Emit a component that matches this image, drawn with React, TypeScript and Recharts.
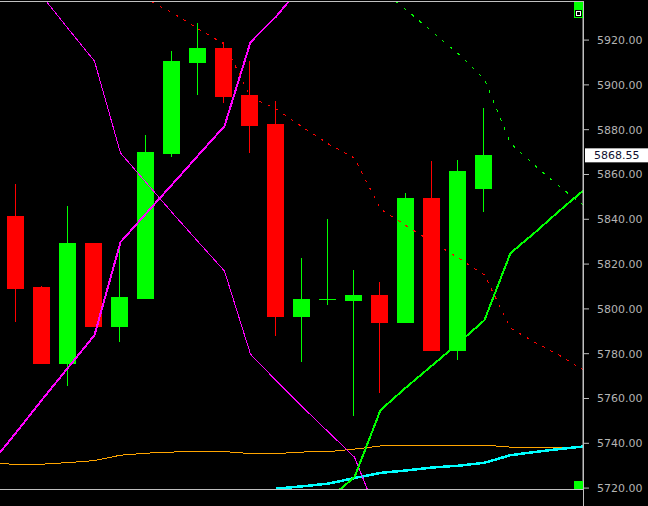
import { Bar, ComposedChart, Line, ReferenceLine, XAxis, YAxis } from 'recharts';

// candles, index 0..18
const opens = [5841.4, 5809.7, 5775.4, 5829.4, 5792.0, 5804.5, 5869.1, 5909.7, 5916.4, 5895.4, 5882.5, 5796.5, 5804.0, 5803.6, 5806.2, 5793.7, 5849.5, 5781.2, 5853.5];
const highs = [5855.7, 5810.2, 5845.9, 5829.4, 5829.4, 5877.6, 5915.1, 5927.6, 5919.1, 5910.6, 5892.8, 5822.5, 5840.0, 5817.3, 5812.0, 5851.7, 5866.0, 5866.4, 5889.8];
const lows = [5794.1, 5775.4, 5765.7, 5792.0, 5785.3, 5804.5, 5867.9, 5895.4, 5891.9, 5869.4, 5788.0, 5776.0, 5801.4, 5752.3, 5762.5, 5793.7, 5781.2, 5777.1, 5843.3];
const closes = [5808.8, 5775.4, 5829.4, 5792.0, 5805.3, 5870.0, 5910.6, 5916.4, 5894.7, 5881.7, 5796.5, 5804.4, 5804.4, 5806.2, 5793.7, 5849.5, 5781.2, 5861.5, 5868.55];

// indicator lines, each with the bar index of its first value
const magentaUpStart = -1;
const magentaUp = [5730.7, 5745.0, 5759.7, 5774.0, 5788.3, 5829.8, 5842.8, 5855.7, 5868.7, 5881.6, 5919.1, 5930.7, 5944.6];
const magentaDownStart = 0;
const magentaDown = [5953.5, 5939.4, 5924.9, 5910.6, 5869.6, 5856.2, 5842.8, 5829.8, 5816.9, 5779.8, 5767.8, 5756.2, 5745.0, 5733.8, 5704.8];
const redDotsStart = 4;
const redDots = [5945.0, 5938.3, 5932.1, 5924.9, 5918.2, 5894.6, 5889.2, 5881.2, 5873.6, 5867.3, 5844.6, 5837.0, 5829.8, 5822.7, 5815.1, 5791.4, 5784.7, 5778.5, 5771.3];
const greenDotsStart = 14;
const greenDots = [5942.8, 5933.4, 5923.6, 5913.8, 5902.6, 5874.0, 5863.3, 5853.5, 5844.6];
const greenLineStart = 12;
const greenLine = [5715.1, 5724.9, 5754.8, 5765.1, 5774.9, 5784.7, 5795.0, 5824.9, 5834.7, 5845.0, 5854.8];
const orangeStart = -1;
const orange = [5730.9, 5730.7, 5730.7, 5731.4, 5732.3, 5734.7, 5735.6, 5736.1, 5736.3, 5736.3, 5735.4, 5735.4, 5736.1, 5736.3, 5737.4, 5738.8, 5739.2, 5739.2, 5739.2, 5739.2, 5738.3, 5738.1, 5738.1, 5738.5];
const cyanStart = 10;
const cyan = [5719.8, 5720.8, 5722.0, 5724.5, 5726.8, 5727.9, 5729.2, 5730.0, 5731.3, 5734.7, 5736.2, 5737.6, 5738.8];

const yTicks = [5720, 5740, 5760, 5780, 5800, 5820, 5840, 5860, 5880, 5900, 5920];

const at = (arr: number[], start: number, i: number) => arr[i - start];

const data = [];
for (let i = -1; i <= 22; i++) {
  const c = i >= 0 && i < opens.length;
  data.push({
    i,
    range: c ? [lows[i], highs[i]] : null,
    open: c ? opens[i] : null,
    close: c ? closes[i] : null,
    high: c ? highs[i] : null,
    low: c ? lows[i] : null,
    magUp: at(magentaUp, magentaUpStart, i),
    magDown: at(magentaDown, magentaDownStart, i),
    redDots: at(redDots, redDotsStart, i),
    greenDots: at(greenDots, greenDotsStart, i),
    greenLine: at(greenLine, greenLineStart, i),
    orange: at(orange, orangeStart, i),
    cyan: at(cyan, cyanStart, i),
  });
}

const Candle = (props: any) => {
  const { x, y, width, height, payload } = props;
  if (payload.open == null) return null;
  const { open, close, high, low } = payload;
  const color = close >= open ? '#00ff00' : '#ff0000';
  const ratio = height / (high - low);
  const top = y + (high - Math.max(open, close)) * ratio;
  const bodyH = Math.max(1, Math.abs(open - close) * ratio);
  const cx = Math.floor(x + width / 2);
  return (
    <g shapeRendering="crispEdges">
      <rect x={cx} y={Math.round(y)} width={1} height={Math.max(1, Math.round(height))} fill={color} />
      <rect x={Math.round(x)} y={Math.round(top)} width={Math.round(width)} height={Math.max(1, Math.round(bodyH))} fill={color} />
    </g>
  );
};

const PriceTag = (props: any) => {
  const { viewBox } = props;
  const x = viewBox.x + viewBox.width + 2;
  const y = viewBox.y;
  return (
    <g>
      <rect x={x} y={y - 7} width={63} height={14} fill="#ffffff" />
      <text x={x + 9} y={y} dominantBaseline="central" fontSize={11} fontFamily="DejaVu Sans" fill="#101030">
        {closes[closes.length - 1].toFixed(2)}
      </text>
    </g>
  );
};

export default function App() {
  return (
    <div style={{ position: 'absolute', left: 0, top: 0, width: 648, height: 506, background: '#000', overflow: 'hidden' }}>
      <style>{'.recharts-line-curve { shape-rendering: crispEdges; }'}</style>
      <ComposedChart width={648} height={506} data={data} margin={{ top: 2, right: 0, bottom: 17, left: 0 }}>
        <XAxis dataKey="i" type="number" domain={[-0.6346, 21.7885]} allowDataOverflow hide />
        <YAxis
          orientation="right"
          type="number"
          domain={[5719.6, 5937]}
          ticks={yTicks}
          interval={0}
          allowDataOverflow
          width={65}
          axisLine={{ stroke: '#c0c0c0' }}
          tickLine={{ stroke: '#c0c0c0' }}
          tickSize={6}
          tickMargin={8}
          tick={{ fill: '#b4b4b4', fontSize: 11, fontFamily: 'DejaVu Sans' }}
          tickFormatter={(v: number) => v.toFixed(2)}
        />
        <Line dataKey="orange" stroke="#ffa500" strokeWidth={1} dot={false} isAnimationActive={false} />
        <Line dataKey="cyan" stroke="#00ffff" strokeWidth={2.5} dot={false} isAnimationActive={false} />
        <Line dataKey="magDown" stroke="#ff00ff" strokeWidth={1} dot={false} isAnimationActive={false} />
        <Line dataKey="magUp" stroke="#ff00ff" strokeWidth={2} dot={false} isAnimationActive={false} />
        <Line dataKey="redDots" stroke="#ff0000" strokeWidth={1} strokeDasharray="3 6" dot={false} isAnimationActive={false} />
        <Line dataKey="greenDots" stroke="#00ff00" strokeWidth={1} strokeDasharray="3 7" dot={false} isAnimationActive={false} />
        <Bar dataKey="range" barSize={17} shape={Candle} isAnimationActive={false} />
        <Line dataKey="greenLine" stroke="#00ff00" strokeWidth={2} dot={false} isAnimationActive={false} />
        <ReferenceLine y={closes[closes.length - 1]} stroke="none" label={(p: any) => <PriceTag {...p} />} />
      </ComposedChart>
      <div style={{ position: 'absolute', left: 0, top: 1, width: 584, height: 1, background: '#c0c0c0' }} />
      <div style={{ position: 'absolute', left: 0, top: 489, width: 584, height: 1, background: '#c0c0c0' }} />
      <div style={{ position: 'absolute', left: 583, top: 1, width: 1, height: 505, background: '#c0c0c0' }} />
      <div style={{ position: 'absolute', left: 574, top: 2, width: 9, height: 16, background: '#00ff00' }}>
        <div style={{ position: 'absolute', left: 1, top: 8, width: 7, height: 7, background: '#000' }}>
          <div style={{ position: 'absolute', left: 1, top: 1, width: 3, height: 3, border: '1px solid #fff' }} />
        </div>
      </div>
      <div style={{ position: 'absolute', left: 574, top: 481, width: 9, height: 8, background: '#00ff00' }} />
    </div>
  );
}
